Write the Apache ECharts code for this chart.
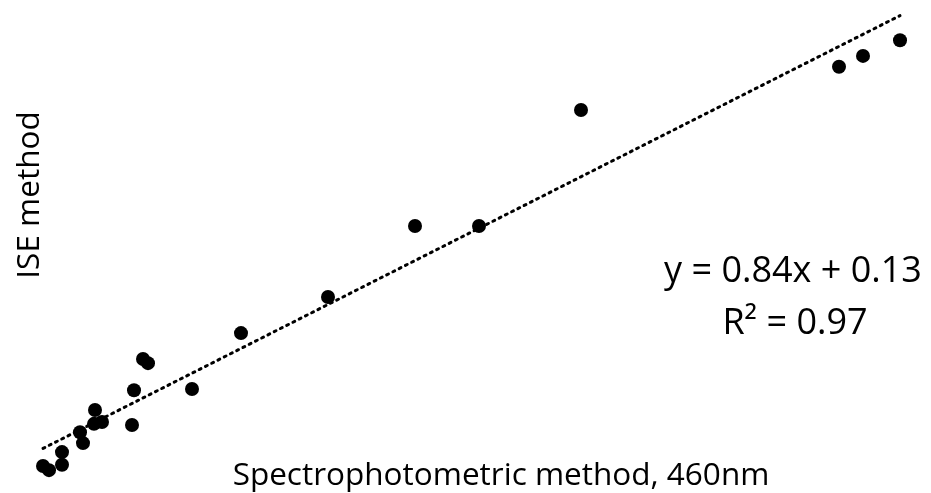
<!DOCTYPE html>
<html>
<head>
<meta charset="utf-8">
<script src="https://cdn.jsdelivr.net/npm/echarts@6/dist/echarts.min.js"></script>
<style>
html,body{margin:0;padding:0;background:#fff;}
#chart{width:931px;height:493px;}
</style>
</head>
<body>
<div id="chart"></div>
<script>
// Spectrophotometric method (x) vs ISE method (y)
const spectroValues = [0.43, 0.49, 0.62, 0.62, 0.80, 0.83, 0.95, 0.94, 1.02, 1.32, 1.34, 1.43, 1.48, 1.92, 2.41, 3.28, 4.15, 4.79, 5.81, 8.39, 8.63, 9.00];
const iseValues     = [0.20, 0.13, 0.43, 0.22, 0.76, 0.58, 1.13, 0.90, 0.93, 0.88, 1.46, 1.98, 1.91, 1.48, 2.41, 3.01, 4.19, 4.19, 6.12, 6.84, 7.02, 7.28];
const trendSlope = 0.84;
const trendIntercept = 0.13;
const rSquared = 0.97;
const xAxisTitle = 'Spectrophotometric method, 460nm';
const yAxisTitle = 'ISE method';

const points = spectroValues.map((x, i) => [x, iseValues[i]]);
const xMin = Math.min(...spectroValues);
const xMax = Math.max(...spectroValues);
const trend = [[xMin, trendSlope * xMin + trendIntercept], [xMax, trendSlope * xMax + trendIntercept]];

const chart = echarts.init(document.getElementById('chart'));
const font = '"Open Sans", "Noto Sans", sans-serif';
chart.setOption({
  animation: false,
  backgroundColor: '#ffffff',
  grid: {left: 0, right: 0, top: 0, bottom: 0},
  xAxis: {type: 'value', min: 0, max: 9.31, show: false},
  yAxis: {type: 'value', min: -0.25, max: 7.95, show: false},
  graphic: [
    {type: 'text', x: 501, y: 476, style: {text: xAxisTitle, font: '31.5px ' + font, fill: '#000', textAlign: 'center', textVerticalAlign: 'middle'}},
    {type: 'text', rotation: Math.PI / 2, x: 30, y: 195, style: {text: yAxisTitle, font: '31.5px ' + font, fill: '#000', textAlign: 'center', textVerticalAlign: 'middle'}},
    {type: 'text', x: 793, y: 272, style: {text: 'y = ' + trendSlope.toFixed(2) + 'x + ' + trendIntercept.toFixed(2), font: '36px ' + font, fill: '#000', textAlign: 'center', textVerticalAlign: 'middle'}},
    {type: 'text', x: 795, y: 324, style: {text: 'R² = ' + rSquared.toFixed(2), font: '36px ' + font, fill: '#000', textAlign: 'center', textVerticalAlign: 'middle'}}
  ],
  series: [
    {
      type: 'line',
      data: trend,
      symbol: 'none',
      lineStyle: {color: '#000', width: 3, type: [2, 5], cap: 'round'},
      z: 1
    },
    {
      type: 'scatter',
      data: points,
      symbol: 'circle',
      symbolSize: 14,
      itemStyle: {color: '#000', opacity: 1},
      z: 2
    }
  ]
});
</script>
</body>
</html>
